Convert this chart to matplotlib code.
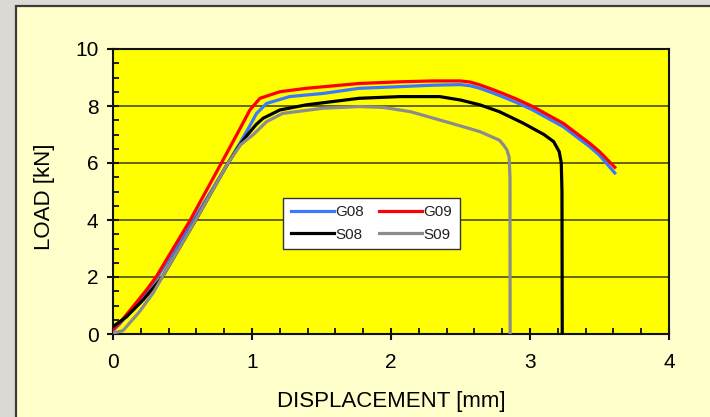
import matplotlib
matplotlib.use("Agg")
import matplotlib.pyplot as plt
from matplotlib.patches import Rectangle
from matplotlib.ticker import MultipleLocator

plt.rcParams['font.family'] = ['Liberation Sans', 'DejaVu Sans']

# ---- data (displacement mm, load kN) ----
g08_x = [0, 0.05, 0.15, 0.25, 0.32, 0.58, 0.83, 0.961, 1.033, 1.105, 1.27, 1.51, 1.77, 2.07, 2.3, 2.5,
         2.57, 2.64, 2.72, 2.8, 2.9, 3.02, 3.24, 3.43, 3.5, 3.61]
g08_y = [0.12, 0.36, 0.95, 1.55, 2.0, 4.0, 6.0, 7.1, 7.74, 8.09, 8.33, 8.44, 8.62, 8.68, 8.73, 8.75,
         8.71, 8.62, 8.48, 8.33, 8.13, 7.86, 7.27, 6.57, 6.27, 5.65]

g09_x = [0, 0.05, 0.144, 0.24, 0.31, 0.556, 0.78, 0.88, 0.985, 1.057, 1.2, 1.39, 1.77, 2.07, 2.3, 2.5,
         2.57, 2.64, 2.72, 2.8, 2.9, 3.02, 3.24, 3.43, 3.5, 3.61]
g09_y = [0.15, 0.4, 0.96, 1.54, 2.0, 4.0, 6.0, 6.9, 7.86, 8.27, 8.5, 8.62, 8.79, 8.85, 8.88, 8.88,
         8.84, 8.74, 8.6, 8.45, 8.25, 7.98, 7.39, 6.69, 6.4, 5.85]

s08_x = [0, 0.096, 0.216, 0.355, 0.595, 0.827, 0.9, 0.961, 1.03, 1.08, 1.2, 1.39, 1.77, 2.065, 2.35, 2.5,
         2.64, 2.78, 2.95, 3.1, 3.17, 3.21, 3.225, 3.23, 3.232]
s08_y = [0.26, 0.6, 1.19, 2.0, 4.0, 6.0, 6.55, 6.95, 7.35, 7.57, 7.86, 8.04, 8.27, 8.33, 8.33, 8.21,
         8.04, 7.8, 7.4, 7.0, 6.75, 6.4, 6.0, 5.0, 0.0]

s09_x = [0, 0.072, 0.19, 0.29, 0.355, 0.595, 0.827, 0.92, 1.01, 1.105, 1.22, 1.51, 1.77, 1.945, 2.14,
         2.35, 2.5, 2.64, 2.78, 2.81, 2.835, 2.85, 2.856, 2.857]
s09_y = [0.03, 0.12, 0.78, 1.45, 2.0, 4.0, 6.0, 6.65, 7.0, 7.45, 7.74, 7.92, 7.98, 7.95, 7.8,
         7.51, 7.3, 7.1, 6.8, 6.63, 6.45, 6.2, 5.5, 0.0]

series_names = ['G08', 'G09', 'S08', 'S09']
series_colors = ['#3a78ff', '#ff0000', '#000000', '#8c8c8c']

fig = plt.figure(figsize=(7.10, 4.17), dpi=100)
fig.patch.set_facecolor('#dcdad4')
panel = Rectangle((16 / 710, -0.2), 1.5, 1.2 - 6.5 / 417, transform=fig.transFigure,
                  facecolor='#ffffcc', edgecolor='#3c3c3c', linewidth=1.6, zorder=-10)
fig.patches.append(panel)

ax = fig.add_axes([113 / 710, 83 / 417, 556 / 710, 285 / 417])
ax.set_zorder(5)
ax.set_facecolor('#ffff00')

lines = {}
for name, xs, ys, c in zip(series_names, [g08_x, g09_x, s08_x, s09_x], [g08_y, g09_y, s08_y, s09_y], series_colors):
    ln, = ax.plot(xs, ys, color=c, lw=2.3, label=name, solid_joinstyle='round', zorder=3)
    lines[name] = ln

ax.set_xlim(0, 4)
ax.set_ylim(0, 10)
ax.xaxis.set_major_locator(MultipleLocator(1))
ax.xaxis.set_minor_locator(MultipleLocator(0.2))
ax.yaxis.set_major_locator(MultipleLocator(2))
ax.yaxis.set_minor_locator(MultipleLocator(0.5))
ax.grid(axis='y', which='major', color='#5a5a00', lw=1.3, zorder=1)
ax.set_axisbelow(True)

ax.tick_params(which='major', direction='inout', length=9, width=1.5, labelsize=15, color='#111111')
ax.tick_params(axis='x', which='major', pad=9)
ax.tick_params(axis='y', which='major', pad=6)
ax.tick_params(which='minor', direction='in', length=4, width=1.3, color='#111111')
for sp in ax.spines.values():
    sp.set_linewidth(1.5)
    sp.set_color('#111111')

ax.set_xlabel('DISPLACEMENT [mm]', fontsize=16, va='center')
ax.xaxis.set_label_coords(0.5, -0.237)
ax.set_ylabel('LOAD [kN]', fontsize=16, va='center')
ax.yaxis.set_label_coords(-0.124, 0.48)

handles = [lines['G08'], lines['S08'], lines['G09'], lines['S09']]
leg = ax.legend(handles, [h.get_label() for h in handles], ncol=2, loc='center',
                bbox_to_anchor=(0.465, 0.388), fontsize=11, frameon=True, fancybox=False,
                handlelength=2.8, handletextpad=0.1, columnspacing=1.0, borderpad=0.5,
                labelspacing=0.55, framealpha=1)
leg.get_frame().set_facecolor('white')
leg.get_frame().set_edgecolor('#333333')
leg.get_frame().set_linewidth(1.0)
for t in leg.get_texts():
    t.set_color('#222222')

fig.savefig('out.png', dpi=100, facecolor=fig.get_facecolor())
